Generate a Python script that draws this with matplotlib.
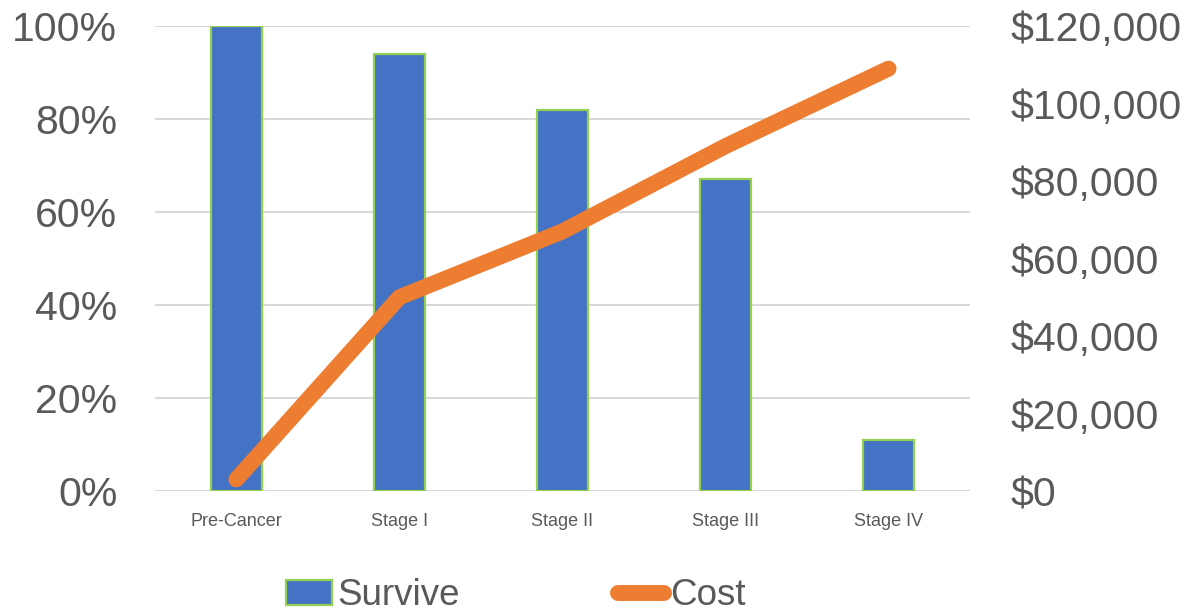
import matplotlib
matplotlib.use("Agg")
import matplotlib.pyplot as plt
from matplotlib.ticker import FuncFormatter

categories = ["Pre-Cancer", "Stage I", "Stage II", "Stage III", "Stage IV"]
survive = [100, 94, 82, 67, 11]
cost = [3000, 50000, 67000, 89000, 109000]
left_ticks = [0, 20, 40, 60, 80, 100]
right_ticks = [0, 20000, 40000, 60000, 80000, 100000, 120000]

plt.rcParams['font.family'] = ['Liberation Sans', 'DejaVu Sans']

TXT = '#595959'
BAR = '#4472C4'
EDGE = '#92D050'
LINE = '#ED7D31'
GRID = '#D9D9D9'

fig = plt.figure(figsize=(11.91, 6.15), dpi=100)
ax = fig.add_axes([0.130, 0.2016, 0.6845, 0.7561])
x = list(range(len(categories)))
bars = ax.bar(x, survive, width=0.31, color=BAR, edgecolor=EDGE, linewidth=1.6, zorder=2, label='Survive')
ax.set_xlim(-0.5, len(categories) - 0.5)
ax.set_ylim(0, 100)
ax.set_yticks(left_ticks)
ax.yaxis.set_major_formatter(FuncFormatter(lambda v, p: f"{int(v)}%"))
ax.set_xticks(x)
ax.set_xticklabels(categories)
ax.grid(axis='y', color=GRID, linewidth=1.5, zorder=0)
ax.set_axisbelow(True)
for s in ax.spines.values():
    s.set_visible(False)
ax.tick_params(axis='y', length=0, labelsize=29.5, labelcolor=TXT, pad=27)
ax.tick_params(axis='x', length=0, labelsize=13, labelcolor=TXT, pad=16)

ax2 = ax.twinx()
ax2.set_ylim(0, 120000)
ax2.set_yticks(right_ticks)
ax2.yaxis.set_major_formatter(FuncFormatter(lambda v, p: "$" + format(int(v), ",")))
(ln,) = ax2.plot(x, cost, color=LINE, linewidth=11.5, solid_capstyle='round', solid_joinstyle='round', zorder=3, label='Cost')
for s in ax2.spines.values():
    s.set_visible(False)
ax2.tick_params(axis='y', length=0, labelsize=29.5, labelcolor=TXT, pad=29)

leg = fig.legend([bars, ln], ['Survive', 'Cost'], loc='center', bbox_to_anchor=(0.433, 0.031),
                 ncol=2, frameon=False, fontsize=26.5, handlelength=1.25, handleheight=0.7,
                 handletextpad=0.15, columnspacing=4.3, labelcolor=TXT)

fig.savefig("out.png", dpi=100)
